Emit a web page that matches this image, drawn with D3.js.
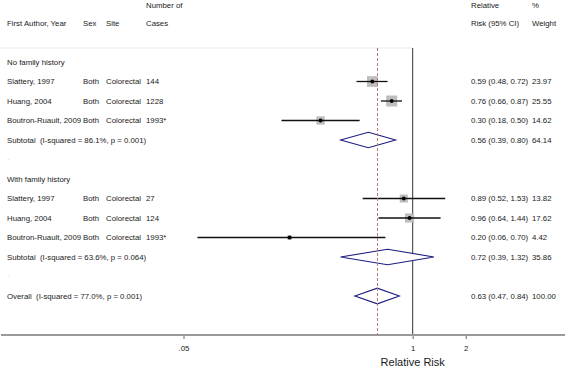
<!DOCTYPE html>
<html lang="en">
<head>
<meta charset="UTF-8">
<title>Forest plot</title>
<script src="https://d3js.org/d3.v7.min.js"></script>
<style>
  body { margin: 0; background: #fff; }
  svg text { font-family: "Liberation Sans", Arial, sans-serif; font-size: 7.8px; fill: #1a1a1a; white-space: pre; }
</style>
</head>
<body>
<svg width="567" height="367"></svg>
<script>
// data
const groupLabels = ["No family history", "With family history"];
const authors = ["Slattery, 1997", "Huang, 2004", "Boutron-Ruault, 2009", "Slattery, 1997", "Huang, 2004", "Boutron-Ruault, 2009"];
const sexes = ["Both", "Both", "Both", "Both", "Both", "Both"];
const sites = ["Colorectal", "Colorectal", "Colorectal", "Colorectal", "Colorectal", "Colorectal"];
const cases = ["144", "1228", "1993*", "27", "124", "1993*"];
const rr = [0.59, 0.76, 0.30, 0.89, 0.96, 0.20];
const lo = [0.48, 0.66, 0.18, 0.52, 0.64, 0.06];
const hi = [0.72, 0.87, 0.50, 1.53, 1.44, 0.70];
const weights = [23.97, 25.55, 14.62, 13.82, 17.62, 4.42];
const group = [0, 0, 0, 1, 1, 1];

const subLabels = ["Subtotal  (I-squared = 86.1%, p = 0.001)", "Subtotal  (I-squared = 63.6%, p = 0.064)"];
const subRR = [0.56, 0.72];
const subLo = [0.39, 0.39];
const subHi = [0.80, 1.32];
const subW = [64.14, 35.86];

const overallLabel = "Overall  (I-squared = 77.0%, p = 0.001)";
const overall = { rr: 0.63, lo: 0.47, hi: 0.84, w: 100.00 };

const tickVals = [0.05, 1, 2];
const tickLabels = [".05", "1", "2"];

const svg = d3.select("svg");
const f2 = d3.format(".2f");

const x = d3.scaleLog().domain([0.05, 2]).range([183.5, 465.7]);
const y = d3.scaleLinear().domain([0, 12]).range([62, 296]);
const box = d3.scaleSqrt().domain([0, 25.55]).range([0, 11]);

const colAuthor = 7, colSex = 83, colSite = 106, colCases = 146, colCI = 471, colW = 532;
const plotTop = 48, axisY = 335;

// build row list
const rows = [];
groupLabels.forEach((g, gi) => {
  rows.push({ type: "label", text: g });
  authors.forEach((a, i) => { if (group[i] === gi) rows.push({ type: "study", i }); });
  rows.push({ type: "sub", gi });
  rows.push({ type: "blank" });
});
rows.push({ type: "overall" });
rows.forEach((r, k) => r.y = y(k));

// header
const hdr = svg.append("g");
hdr.append("text").attr("x", colCases).attr("y", 8).text("Number of");
hdr.append("text").attr("x", colAuthor).attr("y", 26).text("First Author, Year");
hdr.append("text").attr("x", colSex).attr("y", 26).text("Sex");
hdr.append("text").attr("x", colSite).attr("y", 26).text("Site");
hdr.append("text").attr("x", colCases).attr("y", 26).text("Cases");
hdr.append("text").attr("x", colCI).attr("y", 8).text("Relative");
hdr.append("text").attr("x", colCI).attr("y", 26).text("Risk (95% CI)");
hdr.append("text").attr("x", colW).attr("y", 8).text("%");
hdr.append("text").attr("x", colW).attr("y", 26).text("Weight");

svg.append("line")
  .attr("x1", 0).attr("x2", x(1)).attr("y1", plotTop).attr("y2", plotTop)
  .attr("stroke", "#c8c8c8").attr("stroke-width", 0.8).attr("stroke-dasharray", "1,1");

// reference lines
svg.append("line")
  .attr("x1", x(1)).attr("x2", x(1)).attr("y1", plotTop).attr("y2", axisY)
  .attr("stroke", "#333").attr("stroke-width", 1);

// axis
const axis = d3.axisBottom(x).tickValues(tickVals).tickFormat((d, i) => tickLabels[i]).tickSize(4).tickPadding(6);
const ax = svg.append("g").attr("transform", `translate(0,${axisY})`).call(axis);
ax.select(".domain").remove();
ax.selectAll(".tick line").attr("stroke", "#666");
ax.selectAll(".tick text").attr("fill", "#1a1a1a").style("font-size", "7.8px").attr("font-family", null);
svg.append("line")
  .attr("x1", 1).attr("x2", 565).attr("y1", axisY).attr("y2", axisY)
  .attr("stroke", "#9a9a9a").attr("stroke-width", 2);
svg.append("text").attr("x", x(1)).attr("y", 366).attr("text-anchor", "middle")
  .style("font-size", "11px").text("Relative Risk");

const diamond = (cy, c, l, h, hh) =>
  `M${x(l)},${cy} L${x(c)},${cy - hh} L${x(h)},${cy} L${x(c)},${cy + hh} Z`;

rows.forEach(r => {
  const ty = r.y + 2.8;
  if (r.type === "label") {
    svg.append("text").attr("x", colAuthor).attr("y", ty).text(r.text);
  } else if (r.type === "blank") {
    svg.append("text").attr("x", colAuthor).attr("y", ty - 2).style("fill", "#bbb").text(".");
  } else if (r.type === "study") {
    const i = r.i;
    svg.append("text").attr("x", colAuthor).attr("y", ty).text(authors[i]);
    svg.append("text").attr("x", colSex).attr("y", ty).text(sexes[i]);
    svg.append("text").attr("x", colSite).attr("y", ty).text(sites[i]);
    svg.append("text").attr("x", colCases).attr("y", ty).text(cases[i]);
    svg.append("text").attr("x", colCI).attr("y", ty).text(`${f2(rr[i])} (${f2(lo[i])}, ${f2(hi[i])})`);
    svg.append("text").attr("x", colW).attr("y", ty).text(f2(weights[i]));
    const s = box(weights[i]);
    svg.append("rect")
      .attr("x", x(rr[i]) - s / 2).attr("y", r.y - s / 2).attr("width", s).attr("height", s)
      .attr("fill", "#bdbdbd");
    svg.append("line")
      .attr("x1", x(lo[i])).attr("x2", x(hi[i])).attr("y1", r.y).attr("y2", r.y)
      .attr("stroke", "#111").attr("stroke-width", 1.3);
    svg.append("circle").attr("cx", x(rr[i])).attr("cy", r.y).attr("r", 1.9).attr("fill", "#000");
  } else if (r.type === "sub") {
    const g = r.gi;
    svg.append("text").attr("x", colAuthor).attr("y", ty).text(subLabels[g]);
    svg.append("text").attr("x", colCI).attr("y", ty).text(`${f2(subRR[g])} (${f2(subLo[g])}, ${f2(subHi[g])})`);
    svg.append("text").attr("x", colW).attr("y", ty).text(f2(subW[g]));
    svg.append("path").attr("d", diamond(r.y, subRR[g], subLo[g], subHi[g], 7.8))
      .attr("fill", "#fff").attr("stroke", "#1c1c82").attr("stroke-width", 1.1);
  } else if (r.type === "overall") {
    svg.append("text").attr("x", colAuthor).attr("y", ty).text(overallLabel);
    svg.append("text").attr("x", colCI).attr("y", ty).text(`${f2(overall.rr)} (${f2(overall.lo)}, ${f2(overall.hi)})`);
    svg.append("text").attr("x", colW).attr("y", ty).text(f2(overall.w));
    svg.append("path").attr("d", diamond(r.y, overall.rr, overall.lo, overall.hi, 7.8))
      .attr("fill", "#fff").attr("stroke", "#1c1c82").attr("stroke-width", 1.1);
  }
});

// dashed line at the overall estimate, drawn over the diamonds as in the reference
const xo = Math.round(x(overall.rr)) + 0.5;
svg.append("line")
  .attr("x1", xo).attr("x2", xo).attr("y1", plotTop).attr("y2", axisY)
  .attr("stroke", "#c07474").attr("stroke-width", 1).attr("stroke-dasharray", "3,2");
</script>
</body>
</html>
